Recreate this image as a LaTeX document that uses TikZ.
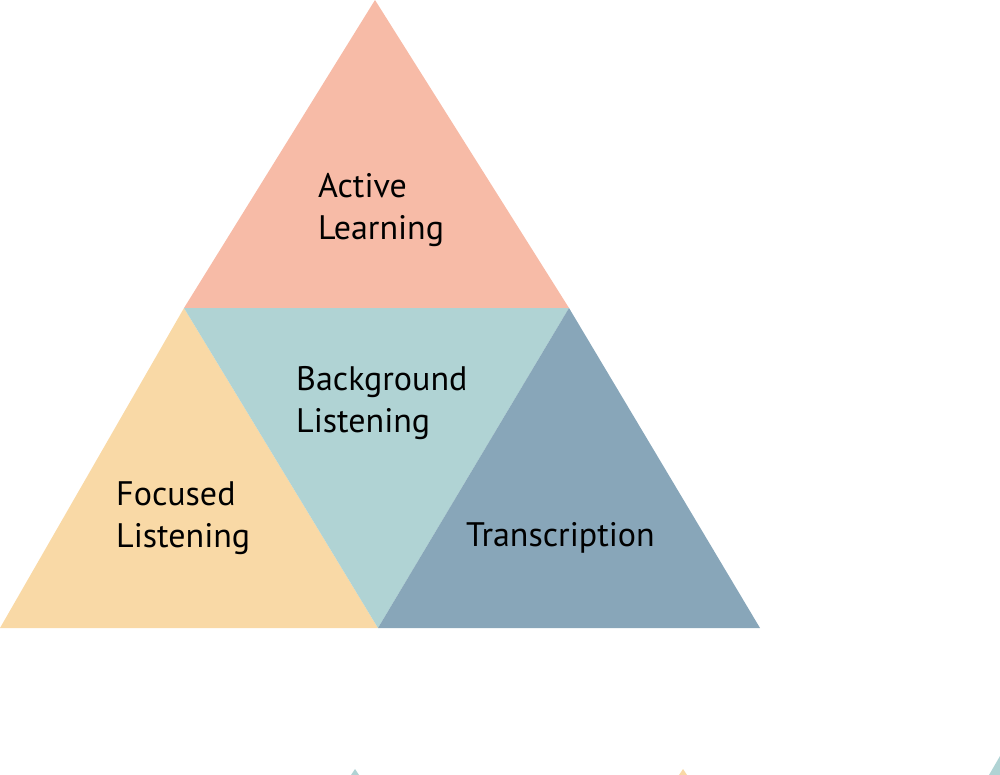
\documentclass[tikz,border=0pt]{standalone}
\usepackage{fontspec}
\setmainfont{PT Sans}
\definecolor{salmon}{HTML}{F7BBA7}
\definecolor{teal}{HTML}{B0D3D4}
\definecolor{sand}{HTML}{F9D9A6}
\definecolor{slate}{HTML}{88A6B9}
\tikzset{
    piece/.style={draw=none},
    lbl/.style={anchor=base west, align=left, inner sep=0pt,
        font=\fontsize{34pt}{42pt}\selectfont, text=black}
}

\begin{document}
\begin{tikzpicture}[x=1pt, y=-1pt]
                    \useasboundingbox (0,0) rectangle (1000,775);
                    \fill[piece, salmon] (375,0) -- (569,308) -- (184,308) -- cycle;
                    \fill[piece, sand] (184,308) -- (378,628) -- (0,628) -- cycle;
                    \fill[piece, teal] (184,308) -- (569,308) -- (378,628) -- cycle;
                    \fill[piece, slate] (569,308) -- (760,628) -- (378,628) -- cycle;
                    % bits of the next figure at the lower edge
                    \fill[piece, teal] (355,769) -- (359,775) -- (351,775) -- cycle;
                    \fill[piece, sand] (683,769) -- (687,775) -- (679,775) -- cycle;
                    \fill[piece, teal] (1000,756) -- (1000,775) -- (989,775) -- cycle;
                    \node[lbl] (active) at (318,240) {Active\\Learning};
                    \node[lbl] (background) at (296,432) {Background\\Listening};
                    \node[lbl] (focused) at (116,547) {Focused\\Listening};
                    \node[lbl] (transcription) at (466,546) {Transcription};
                \end{tikzpicture}
\end{document}
